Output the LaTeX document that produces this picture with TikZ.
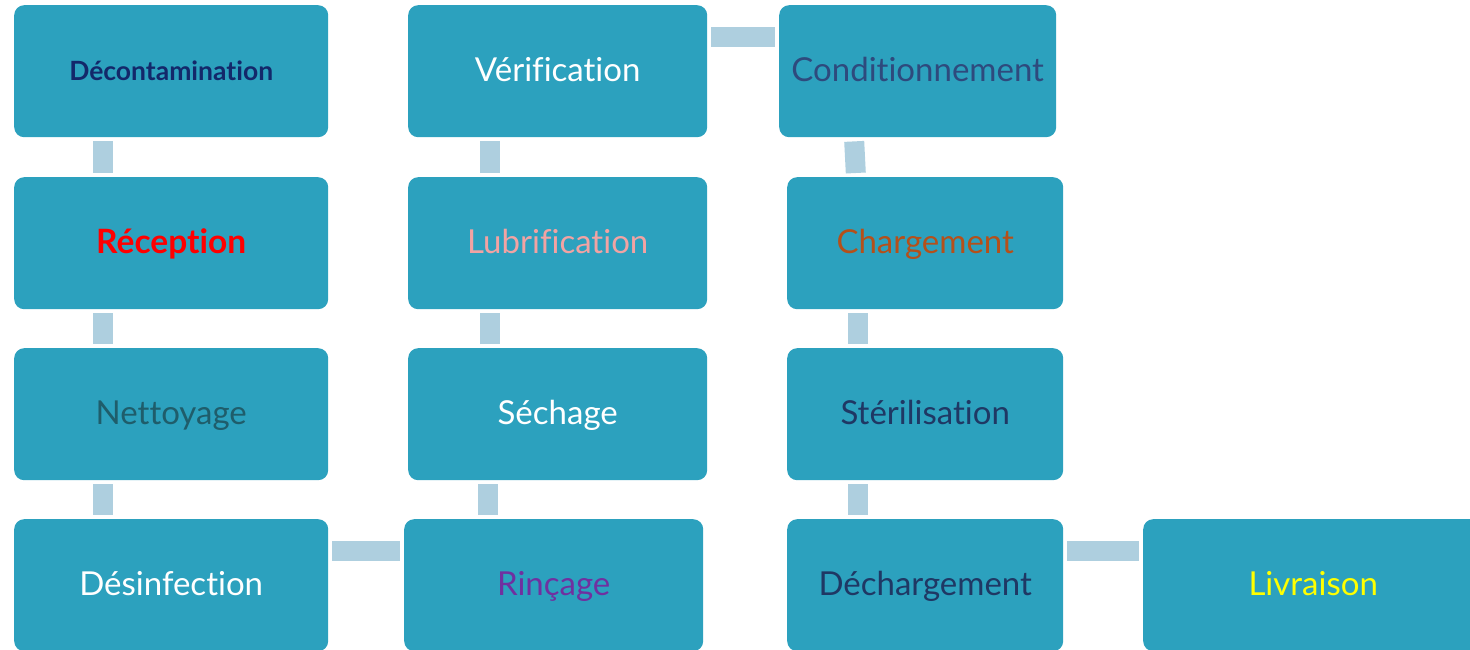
\documentclass[tikz,border=0pt]{standalone}
\usepackage{fontspec}
\setmainfont[Ligatures={NoCommon}]{Lato}
\usetikzlibrary{calc}
\definecolor{boxc}{HTML}{2CA1BE}
\definecolor{connc}{HTML}{AECFDF}
\definecolor{navy}{HTML}{13286A}
\definecolor{darkteal}{HTML}{1F5D6B}
\definecolor{pinkc}{HTML}{F2A3A3}
\definecolor{purplec}{HTML}{7030A0}
\definecolor{condc}{HTML}{2E4A7D}
\definecolor{orangec}{HTML}{B5501A}
\definecolor{darknavy}{HTML}{1F3864}
\definecolor{yellowc}{HTML}{FFFF00}
\tikzset{
  stepbox/.style={rectangle, fill=boxc, rounded corners=10pt, anchor=north west,
    inner sep=0pt, minimum height=132pt, text height=27pt, text depth=6pt,
    font=\fontsize{33}{38}\selectfont},
  conn/.style={draw=connc, line width=20pt, shorten <=4pt, shorten >=4pt}
}
\begin{document}
\begin{tikzpicture}[x=1pt,y=-1pt]
\useasboundingbox (0,0) rectangle (1470,650);
\clip (0,0) rectangle (1470,650);
% column 1
\node[stepbox, minimum width=314pt, text=navy, font=\fontsize{26.5}{30}\selectfont\bfseries, text height=25pt, text depth=7pt] (dec) at (14,5) {Décontamination};
\node[stepbox, minimum width=314pt, text=red, font=\fontsize{33.5}{38}\selectfont\bfseries] (rec) at (14,177) {Réception};
\node[stepbox, minimum width=314pt, text=darkteal] (net) at (14,348) {Nettoyage};
\node[stepbox, minimum width=314pt, text=white] (des) at (14,519) {Désinfection};
% column 2
\node[stepbox, minimum width=299pt, text=white] (ver) at (408,5) {Vérification};
\node[stepbox, minimum width=299pt, text=pinkc] (lub) at (408,177) {Lubrification};
\node[stepbox, minimum width=299pt, text=white] (sec) at (408,348) {Séchage};
\node[stepbox, minimum width=299pt, text=purplec] (rin) at (404,519) {Rinçage};
% column 3
\node[stepbox, minimum width=277pt, text=condc] (con) at (779,5) {Conditionnement};
\node[stepbox, minimum width=276pt, text=orangec] (cha) at (787,177) {Chargement};
\node[stepbox, minimum width=276pt, text=darknavy] (ste) at (787,348) {Stérilisation};
\node[stepbox, minimum width=276pt, text=darknavy] (dch) at (787,519) {Déchargement};
% column 4
\node[stepbox, minimum width=340pt, text=yellowc] (liv) at (1143,519) {Livraison};
% connectors
\draw[conn] (dec.south -| 103,0) -- (rec.north -| 103,0);
\draw[conn] (rec.south -| 103,0) -- (net.north -| 103,0);
\draw[conn] (net.south -| 103,0) -- (des.north -| 103,0);
\draw[conn] (des.east |- 0,551) -- (rin.west |- 0,551);
\draw[conn] (rin.north -| 487.5,0) -- (sec.south -| 487.5,0);
\draw[conn] (sec.north -| 489.5,0) -- (lub.south -| 489.5,0);
\draw[conn] (lub.north -| 489.5,0) -- (ver.south -| 489.5,0);
\draw[conn] (ver.east |- 0,37) -- (con.west |- 0,37);
\draw[conn] ($(con.south -| 854,0)$) -- ($(cha.north -| 856,0)$);
\draw[conn] (cha.south -| 857.5,0) -- (ste.north -| 857.5,0);
\draw[conn] (ste.south -| 857.5,0) -- (dch.north -| 857.5,0);
\draw[conn] (dch.east |- 0,550.5) -- (liv.west |- 0,550.5);
\end{tikzpicture}
\end{document}
